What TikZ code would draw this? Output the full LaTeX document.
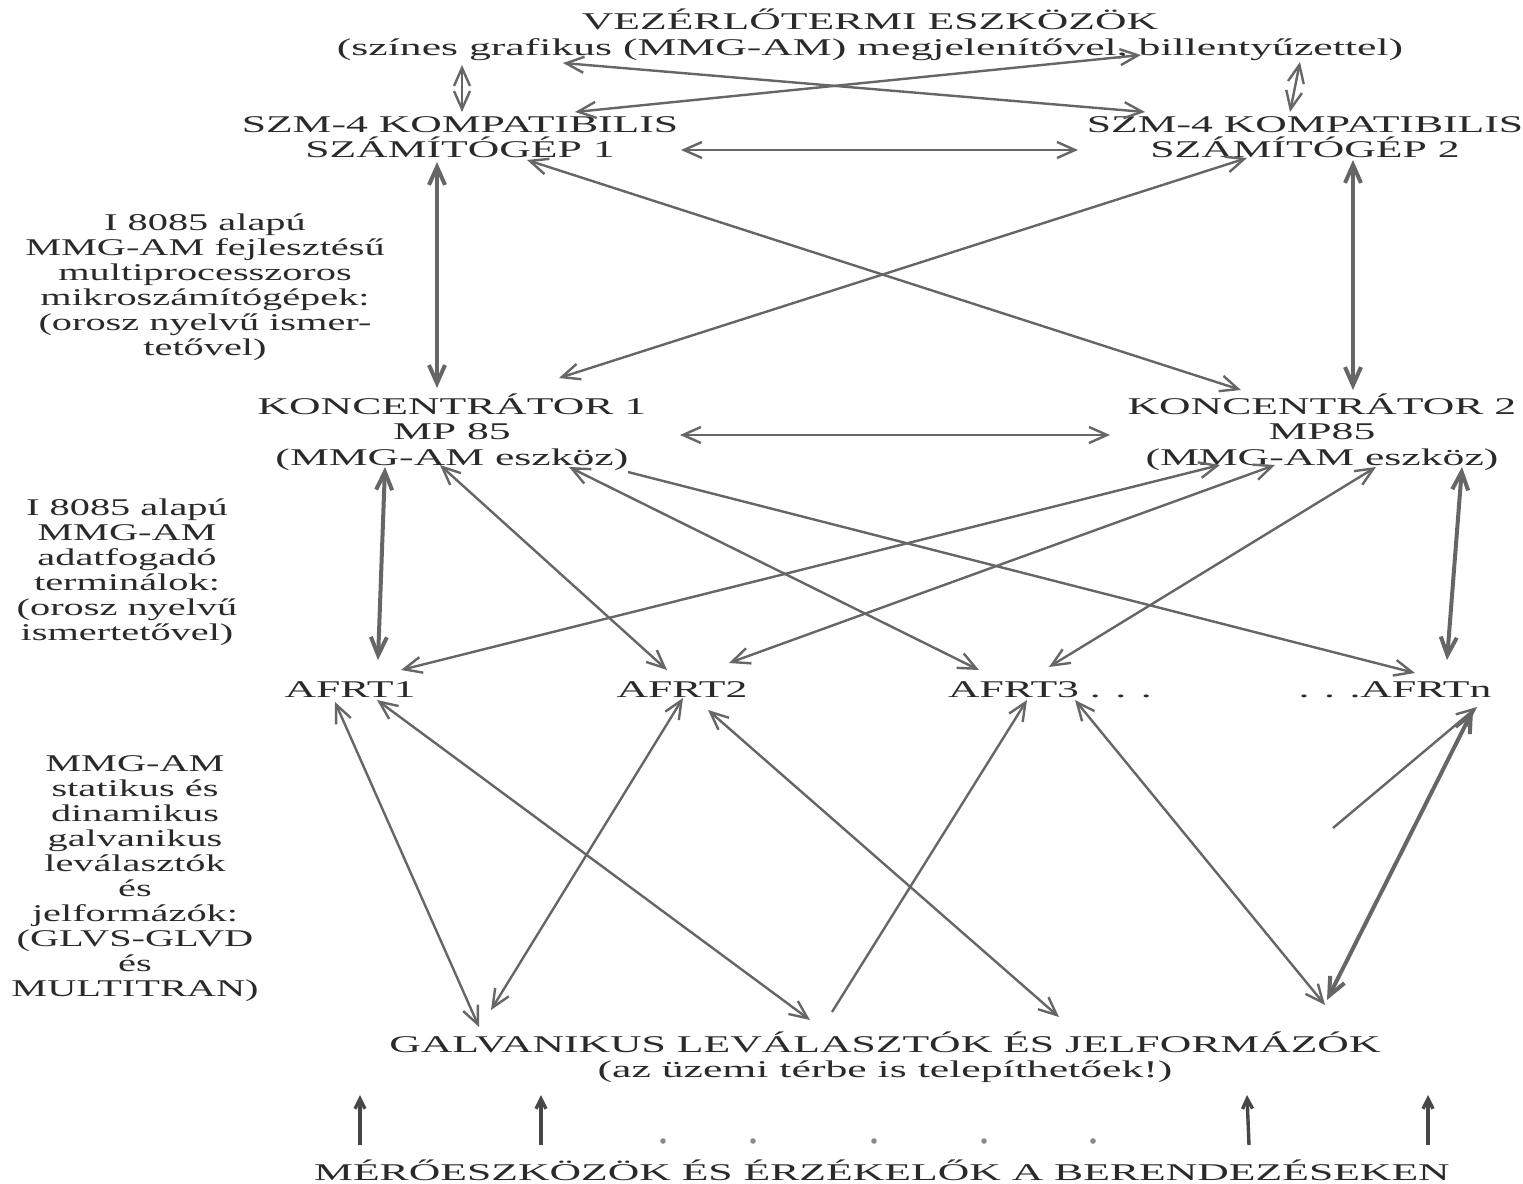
\documentclass[tikz,border=0pt]{standalone}
\usepackage{fontspec}
\setmainfont{Liberation Serif}[FakeStretch=1.82]
\newfontfamily\sidefont{Liberation Serif}[FakeStretch=1.68]
\usepackage{xcolor}
\usetikzlibrary{arrows.meta,calc}
\newcommand{\picwidth}{1523}
\newcommand{\picheight}{1184}
\definecolor{inkcolor}{HTML}{2A2A2A}
\definecolor{linkcolor}{HTML}{666666}
\definecolor{dotcolor}{HTML}{8A8A8A}

\tikzset{
  blocktext/.style={align=center, inner sep=0pt, text=inkcolor, font=\fontsize{12}{12.75}\selectfont},
  sidetext/.style={align=center, inner sep=0pt, text=inkcolor, font=\sidefont\fontsize{12}{12.5}\selectfont},
  link/.style={draw=linkcolor, line width=1.2pt, {Straight Barb[length=9pt,width=8pt]}-{Straight Barb[length=9pt,width=8pt]}},
  linkto/.style={draw=linkcolor, line width=1.2pt, -{Straight Barb[length=9pt,width=8pt]}},
  heavylink/.style={link, line width=2pt},
  feed/.style={draw=linkcolor!70!black, line width=1.7pt, -{Straight Barb[length=5pt,width=5pt]}}
}

\begin{document}
\begin{tikzpicture}[x=0.5pt, y=-0.5pt]
  % Page background
  \fill[white] (0,0) rectangle (\picwidth,\picheight);
  \useasboundingbox (0,0) rectangle (\picwidth,\picheight);

  % === LEVELS ===
  \node[blocktext] (vez) at (870,35)
    {VEZÉRLŐTERMI ESZKÖZÖK\\(színes grafikus (MMG-AM) megjelenítővel, billentyűzettel)};
  \node[blocktext] (szm1) at (460,137) {SZM-4 KOMPATIBILIS\\SZÁMÍTÓGÉP 1};
  \node[blocktext] (szm2) at (1305,137) {SZM-4 KOMPATIBILIS\\SZÁMÍTÓGÉP 2};
  \node[blocktext] (konc1) at (452,432) {KONCENTRÁTOR 1\\MP 85\\(MMG-AM eszköz)};
  \node[blocktext] (konc2) at (1322,432) {KONCENTRÁTOR 2\\MP85\\(MMG-AM eszköz)};
  \node[blocktext] (afrt1) at (350,690) {AFRT1};
  \node[blocktext] (afrt2) at (682,690) {AFRT2};
  \node[blocktext] (afrt3) at (1050,690) {AFRT3 . . .};
  \node[blocktext] (afrtn) at (1395,690) {. . .AFRTn};
  \node[blocktext] (galv) at (885,1057)
    {GALVANIKUS LEVÁLASZTÓK ÉS JELFORMÁZÓK\\(az üzemi térbe is telepíthetőek!)};
  \node[blocktext] (mero) at (882,1170) {MÉRŐESZKÖZÖK ÉS ÉRZÉKELŐK A BERENDEZÉSEKEN};

  % === SIDE NOTES ===
  \node[sidetext] (note1) at (205,287)
    {I 8085 alapú\\MMG-AM fejlesztésű\\multiprocesszoros\\mikroszámítógépek:\\(orosz nyelvű ismer-\\tetővel)};
  \node[sidetext] (note2) at (127,572)
    {I 8085 alapú\\MMG-AM\\adatfogadó\\terminálok:\\(orosz nyelvű\\ismertetővel)};
  \node[sidetext] (note3) at (135,879)
    {MMG-AM\\statikus és\\dinamikus\\galvanikus\\leválasztók\\és\\jelformázók:\\(GLVS-GLVD\\és\\MULTITRAN)};

  % === CONTROL ROOM <-> COMPUTERS ===
  \draw[link] ($(vez)+(-408,30)$) -- ($(szm1)+(2,-25)$);
  \draw[link] ($(vez)+(430,27)$) -- ($(szm2)+(-15,-25)$);
  \draw[link] ($(vez)+(-307,28)$) -- ($(szm2)+(-160,-25)$);
  \draw[link] ($(vez)+(271,20)$) -- ($(szm1)+(115,-25)$);
  \draw[link] ($(szm1)+(221,13)$) -- ($(szm2)+(-227,13)$);

  % === COMPUTERS <-> CONCENTRATORS ===
  \draw[heavylink] ($(szm1)+(-23,25)$) -- ($(konc1)+(-15,-44)$);
  \draw[link] ($(szm1)+(67,23)$) -- ($(konc2)+(-81,-42)$);
  \draw[link] ($(szm2)+(-58,21)$) -- ($(konc1)+(107,-54)$);
  \draw[heavylink] ($(szm2)+(48,23)$) -- ($(konc2)+(31,-42)$);
  \draw[link] ($(konc1)+(228,3)$) -- ($(konc2)+(-212,3)$);

  % === CONCENTRATORS <-> TERMINALS ===
  \draw[heavylink] ($(konc1)+(-67,35)$) -- ($(afrt1)+(28,-30)$);
  \draw[link] ($(konc1)+(-12,33)$) -- ($(afrt2)+(-15,-20)$);
  \draw[link] ($(konc1)+(117,35)$) -- ($(afrt3)+(-71,-20)$);
  \draw[linkto] ($(konc1)+(176,40)$) -- ($(afrtn)+(20,-17)$);
  \draw[link] ($(konc2)+(-102,33)$) -- ($(afrt1)+(51,-20)$);
  \draw[link] ($(konc2)+(-47,33)$) -- ($(afrt2)+(47,-27)$);
  \draw[link] ($(konc2)+(54,35)$) -- ($(afrt3)+(-1,-23)$);
  \draw[heavylink] ($(konc2)+(140,35)$) -- ($(afrtn)+(52,-30)$);

  % === TERMINALS <-> SIGNAL CONDITIONERS ===
  \draw[link] ($(afrt1)+(-15,12)$) -- ($(galv)+(-406,-30)$);
  \draw[link] ($(afrt1)+(27,10)$) -- ($(galv)+(-75,-37)$);
  \draw[link] ($(afrt2)+(1,8)$) -- ($(galv)+(-394,-47)$);
  \draw[link] ($(afrt2)+(26,20)$) -- ($(galv)+(174,-40)$);
  \draw[linkto] ($(galv)+(-53,-45)$) -- ($(afrt3)+(-23,10)$);
  \draw[link] ($(afrt3)+(25,10)$) -- ($(galv)+(440,-52)$);
  \draw[heavylink] ($(afrtn)+(78,20)$) -- ($(galv)+(442,-57)$);
  \coordinate (stub) at (1333,828);
  \draw[linkto] (stub) -- ($(afrtn)+(82,17)$);

  % === SENSORS -> SIGNAL CONDITIONERS ===
  \foreach \ma/\ga in {-522/-525, -341/-344, 367/362, 546/543}
    \draw[feed] ($(mero)+(\ma,-25)$) -- ($(galv)+(\ga,38)$);
  \foreach \x in {663,753,874,984,1093}
    \fill[dotcolor] (\x,1141) circle (1.4pt);
\end{tikzpicture}
\end{document}
